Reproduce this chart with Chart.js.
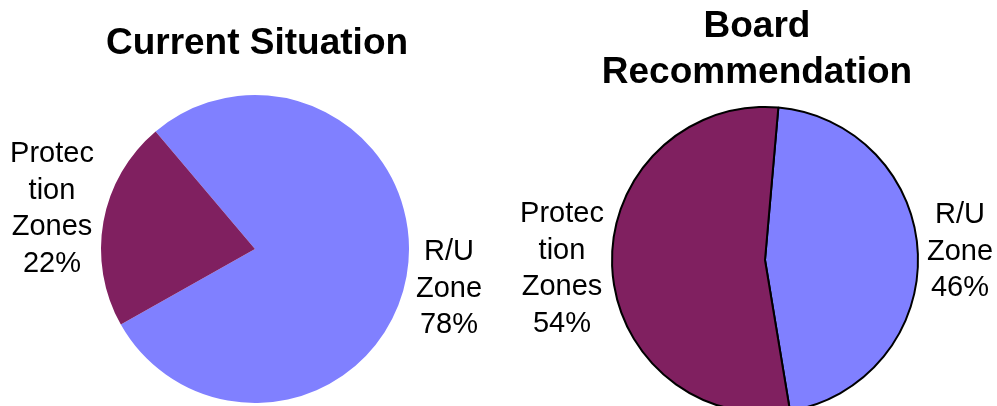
<!DOCTYPE html>
<html>
<head>
<meta charset="utf-8">
<script src="https://cdn.jsdelivr.net/npm/chart.js@4/dist/chart.umd.min.js"></script>
<style>
    html, body { margin: 0; padding: 0; background: #fff; overflow: hidden; width: 997px; height: 406px; }
    canvas { position: absolute; top: 0; }
    #graficaActual { left: 0; }
    #graficaPropuesta { left: 500px; }
</style>
</head>
<body>
<canvas id="graficaActual" width="500" height="406"></canvas>
<canvas id="graficaPropuesta" width="497" height="420"></canvas>
<script>
// datos
const zonas = ['R/U Zone', 'Protection Zones'];
const actual = [78, 22];
const propuesta = [46, 54];
const etiquetasActual = [['R/U', 'Zone', '78%'], ['Protec', 'tion', 'Zones', '22%']];
const etiquetasPropuesta = [['R/U', 'Zone', '46%'], ['Protec', 'tion', 'Zones', '54%']];
const colores = ['#8080FF', '#802060'];

const FUENTE = '"Liberation Sans", Arial, sans-serif';

// dibuja titulo y etiquetas de cada porcion (texto fuera del pastel)
const textosPastel = {
    id: 'textosPastel',
    afterDraw(chart, args, opts) {
        const ctx = chart.ctx;
        const meta = chart.getDatasetMeta(0);
        const cx = meta.data[0].x;
        const cy = meta.data[0].y;
        ctx.save();
        ctx.fillStyle = '#000';
        ctx.textAlign = 'center';
        ctx.textBaseline = 'alphabetic';

        ctx.font = 'bold 37px ' + FUENTE;
        opts.titulo.forEach((t, i) => ctx.fillText(t, opts.tituloX, opts.tituloY + i * 46.6));

        ctx.font = '29px ' + FUENTE;
        opts.etiquetas.forEach((lineas, i) => {
            const pos = opts.posiciones[i];
            lineas.forEach((l, j) => ctx.fillText(l, cx + pos[0], cy + pos[1] + j * 36.7));
        });
        ctx.restore();
    }
};

function crearPastel(id, valores, rotacion, borde, padding, extra) {
    const ctx = document.getElementById(id).getContext('2d');
    return new Chart(ctx, {
        type: 'pie',
        data: {
            labels: zonas,
            datasets: [{
                data: valores,
                backgroundColor: colores,
                borderColor: '#000',
                borderWidth: borde,
                hoverOffset: 0
            }]
        },
        options: {
            responsive: false,
            animation: false,
            events: [],
            rotation: rotacion,
            layout: { padding: padding },
            plugins: {
                legend: { display: false },
                tooltip: { enabled: false },
                textosPastel: extra
            }
        },
        plugins: [textosPastel]
    });
}

crearPastel('graficaActual', actual, 319.8, 0,
    { top: 95, bottom: 3, left: 101, right: 91 },
    {
        titulo: ['Current Situation'], tituloX: 257, tituloY: 54,
        etiquetas: etiquetasActual,
        posiciones: [[194, 11], [-203, -87]]
    });

crearPastel('graficaPropuesta', propuesta, 5, 2,
    { top: 106, bottom: 6, left: 111, right: 78 },
    {
        titulo: ['Board', 'Recommendation'], tituloX: 257, tituloY: 36.7,
        etiquetas: etiquetasPropuesta,
        posiciones: [[195, -37], [-203, -38]]
    });
</script>
</body>
</html>
